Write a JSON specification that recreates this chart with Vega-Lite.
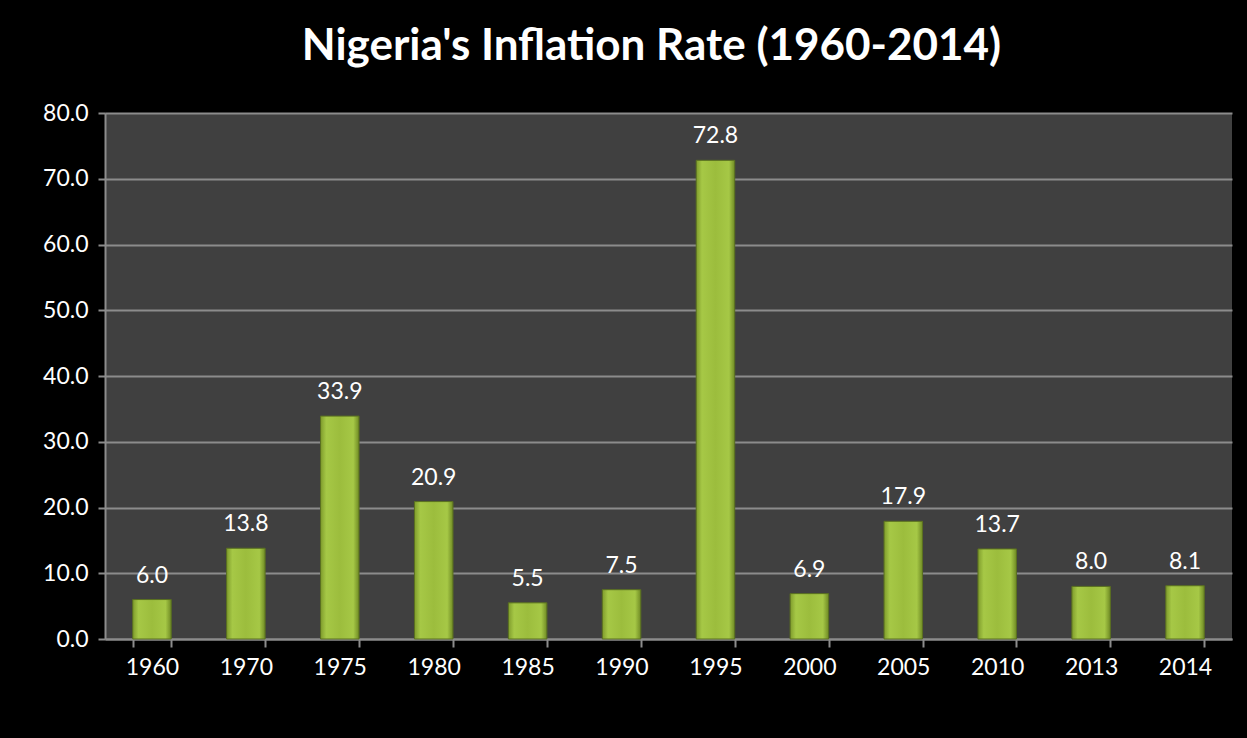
{
  "$schema": "https://vega.github.io/schema/vega-lite/v6.json",
  "autosize": {"type": "none"},
  "width": 1127,
  "height": 526,
  "padding": {"left": 105, "top": 113, "right": 15, "bottom": 99},
  "background": "#000000",
  "title": {
    "text": "Nigeria's Inflation Rate (1960-2014)",
    "color": "#ffffff",
    "font": "Lato",
    "fontSize": 44,
    "fontWeight": "bold",
    "baseline": "alphabetic",
    "offset": -2,
    "anchor": "middle",
    "dx": -17
  },
  "data": {
    "values": [
      {"year": "1960", "rate": 6.0},
      {"year": "1970", "rate": 13.8},
      {"year": "1975", "rate": 33.9},
      {"year": "1980", "rate": 20.9},
      {"year": "1985", "rate": 5.5},
      {"year": "1990", "rate": 7.5},
      {"year": "1995", "rate": 72.8},
      {"year": "2000", "rate": 6.9},
      {"year": "2005", "rate": 17.9},
      {"year": "2010", "rate": 13.7},
      {"year": "2013", "rate": 8.0},
      {"year": "2014", "rate": 8.1}
    ]
  },
  "encoding": {
    "x": {
      "field": "year",
      "type": "nominal",
      "sort": null,
      "scale": {"paddingInner": 0.59, "paddingOuter": 0.295},
      "axis": {
        "title": null,
        "labelAngle": 0,
        "labelColor": "#ffffff",
        "labelFont": "Lato",
        "labelFontSize": 23,
        "labelPadding": 9,
        "tickBand": "extent",
        "tickColor": "#8c8c8c",
        "tickSize": 8,
        "tickWidth": 2,
        "domainColor": "#8c8c8c",
        "domainWidth": 2,
        "grid": false
      }
    },
    "y": {
      "field": "rate",
      "type": "quantitative",
      "scale": {"domain": [0, 80]},
      "axis": {
        "title": null,
        "values": [0, 10, 20, 30, 40, 50, 60, 70, 80],
        "format": ".1f",
        "labelColor": "#ffffff",
        "labelFont": "Lato",
        "labelFontSize": 23,
        "labelPadding": 10,
        "tickColor": "#8c8c8c",
        "tickSize": 7,
        "tickWidth": 2,
        "domainColor": "#8c8c8c",
        "domainWidth": 2,
        "gridColor": "#8c8c8c",
        "gridWidth": 2
      }
    }
  },
  "layer": [
    {
      "mark": {
        "type": "bar",
        "stroke": "#5a7020",
        "strokeWidth": 1,
        "fill": {
          "gradient": "linear",
          "x1": 0, "x2": 1, "y1": 0, "y2": 0,
          "stops": [
            {"offset": 0, "color": "#7f9c2c"},
            {"offset": 0.15, "color": "#a6c846"},
            {"offset": 0.5, "color": "#9cbd3d"},
            {"offset": 0.85, "color": "#a6c846"},
            {"offset": 1, "color": "#6f8a24"}
          ]
        }
      }
    },
    {
      "mark": {
        "type": "text",
        "color": "#ffffff",
        "font": "Lato",
        "fontSize": 23,
        "baseline": "alphabetic",
        "dy": -17
      },
      "encoding": {
        "text": {"field": "rate", "type": "quantitative", "format": ".1f"}
      }
    }
  ],
  "config": {
    "view": {"fill": "#404040", "stroke": null}
  }
}
